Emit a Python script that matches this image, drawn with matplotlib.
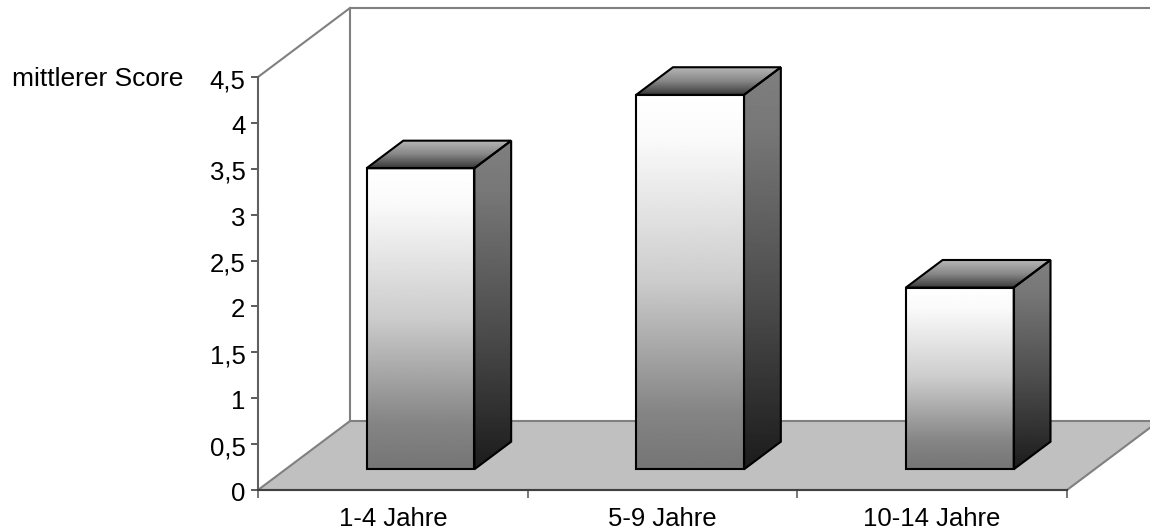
# 3D style bar chart, mittlerer Score per age group
import numpy as np
import matplotlib
matplotlib.use('Agg')
import matplotlib.pyplot as plt
from matplotlib.patches import Polygon
from matplotlib.transforms import ScaledTranslation

plt.rcParams['font.family'] = ['Liberation Sans', 'DejaVu Sans']

categories = ['1-4 Jahre', '5-9 Jahre', '10-14 Jahre']
scores = [3.28, 4.08, 1.98]
y_ticks = [0, 0.5, 1, 1.5, 2, 2.5, 3, 3.5, 4, 4.5]
y_labels = ['0', '0,5', '1', '1,5', '2', '2,5', '3', '3,5', '4', '4,5']

W, H = 1150, 531
fig = plt.figure(figsize=(W / 100, H / 100), dpi=100)
ax = fig.add_axes([258 / W, 1 - 490 / H, (1067 - 258) / W, (490 - 77) / H])
ax.set_xlim(0, 3)
ax.set_ylim(0, 4.5)

# how far one unit of depth shifts things, in data units
DX = 92 / (809 / 3)
DY = 69 / (413 / 4.5)

# grey ramps, position from top of face -> grey level
FRONT = ([0, 0.12, 0.5, 0.85, 1], [1.0, 0.98, 0.8, 0.52, 0.46])
SIDE = ([0, 0.15, 0.6, 1], [0.5, 0.47, 0.29, 0.11])
TOP = ([0, 0.5, 1], [0.72, 0.53, 0.22])


def pt(x, y, d):
    return (x + d * DX, y + d * DY)


def gradient_face(corners, ramp, z):
    # vertical grey gradient clipped to the face
    xs = [c[0] for c in corners]
    ys = [c[1] for c in corners]
    grad = np.interp(np.linspace(0, 1, 256), ramp[0], ramp[1]).reshape(-1, 1)
    im = ax.imshow(grad, cmap='gray', vmin=0, vmax=1, aspect='auto', origin='upper',
                   extent=[min(xs), max(xs), min(ys), max(ys)], zorder=z,
                   interpolation='bilinear')
    im.set_clip_box(fig.bbox)
    im.set_clip_path(Polygon(corners, closed=True, transform=ax.transData))
    edge = Polygon(corners, closed=True, facecolor='none', edgecolor='black',
                   linewidth=1.5, zorder=z + 0.1, clip_on=False, joinstyle='miter')
    ax.add_patch(edge)


# floor and back wall
floor = Polygon([pt(0, 0, 0), pt(3, 0, 0), pt(3, 0, 1), pt(0, 0, 1)], closed=True,
                facecolor='#c0c0c0', edgecolor='#808080', linewidth=1.5, zorder=1, clip_on=False)
ax.add_patch(floor)
p = [pt(0, 0, 1), pt(0, 4.5, 1), pt(3, 4.5, 1)]
ax.plot([c[0] for c in p], [c[1] for c in p], color='#808080', lw=1.5, zorder=1, clip_on=False)
p = [pt(0, 4.5, 0), pt(0, 4.5, 1)]
ax.plot([c[0] for c in p], [c[1] for c in p], color='#808080', lw=1.5, zorder=1, clip_on=False)

# bars
half = 0.2
for i, v in enumerate(scores):
    c = i + 0.5
    x0, x1 = c - half, c + half
    d0, d1 = 0.3, 0.7
    gradient_face([pt(x0, 0, d0), pt(x1, 0, d0), pt(x1, v, d0), pt(x0, v, d0)], FRONT, 3)
    gradient_face([pt(x1, 0, d0), pt(x1, 0, d1), pt(x1, v, d1), pt(x1, v, d0)], SIDE, 3)
    gradient_face([pt(x0, v, d0), pt(x1, v, d0), pt(x1, v, d1), pt(x0, v, d1)], TOP, 3)

ax.set_xlim(0, 3)
ax.set_ylim(0, 4.5)
ax.patch.set_visible(False)

for s in ['top', 'right']:
    ax.spines[s].set_visible(False)
ax.spines['left'].set_color('#606060')
ax.spines['left'].set_linewidth(1.5)
ax.spines['bottom'].set_color('#404040')
ax.spines['bottom'].set_linewidth(1.5)

ax.set_yticks(y_ticks)
ax.set_yticklabels(y_labels, fontsize=18.5)
ax.tick_params(axis='y', length=5, width=1.2, color='#404040', pad=4, labelcolor='black')
# digits sit a little below their ticks in the original
for lab in ax.get_yticklabels():
    lab.set_transform(lab.get_transform() + ScaledTranslation(0, -1.5 / 100, fig.dpi_scale_trans))
ax.set_xticks([0, 1, 2, 3])
ax.set_xticklabels([])
ax.tick_params(axis='x', which='major', length=6, width=1.2, color='#606060')
ax.set_xticks([0.5, 1.5, 2.5], minor=True)
ax.set_xticklabels(categories, minor=True, fontsize=18.5)
ax.tick_params(axis='x', which='minor', length=0, pad=12)

ax.set_ylabel('mittlerer Score', rotation=0, fontsize=19, ha='left', va='center')
ax.yaxis.set_label_coords(-246 / 809, 1 - 2 / 413)

plt.savefig('out.png', dpi=100)
